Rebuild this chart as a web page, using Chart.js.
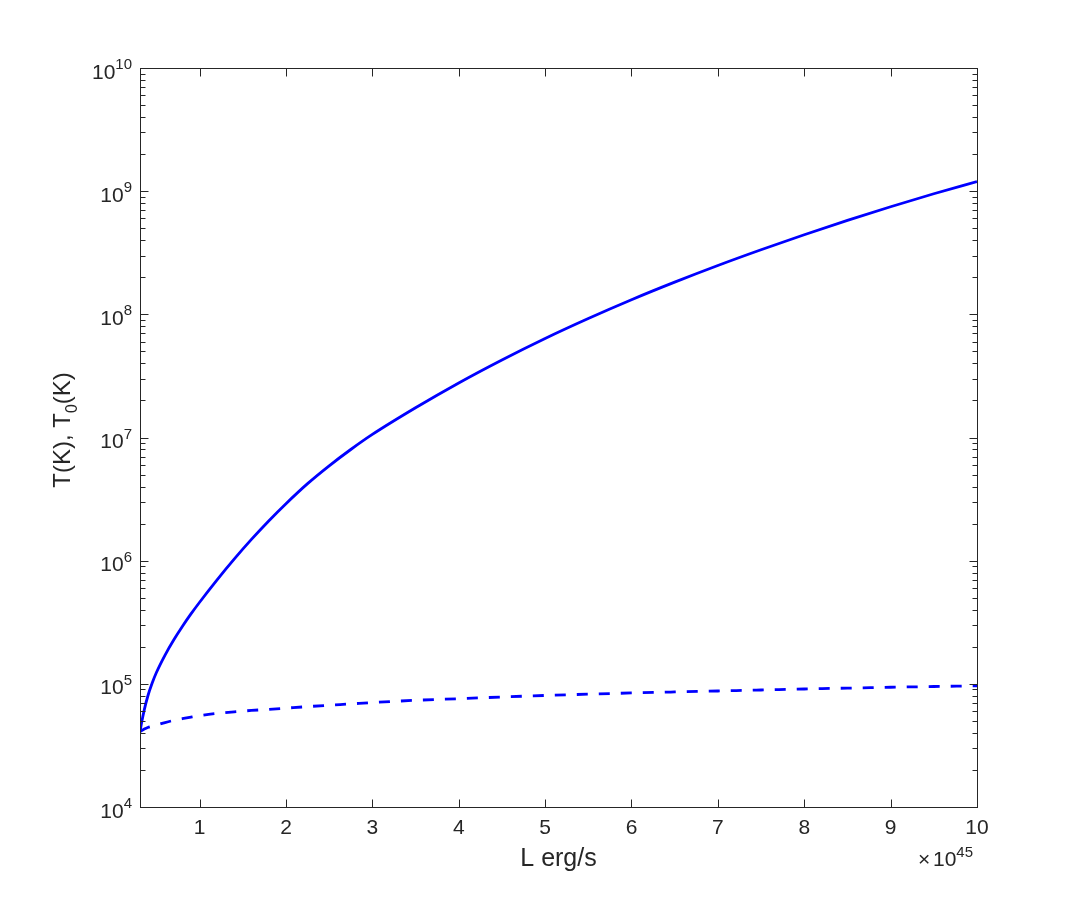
<!DOCTYPE html>
<html>
<head>
<meta charset="utf-8">
<script src="https://cdn.jsdelivr.net/npm/chart.js@4.4.1/dist/chart.umd.min.js"></script>
<style>
  html, body { margin: 0; padding: 0; background: #fff; }
  canvas { display: block; }
</style>
</head>
<body>
<canvas id="myChart" width="1079" height="907"></canvas>
<script>
// luminosity in units of 1e45 erg/s
const lumValues = [0.31, 0.33, 0.36, 0.4, 0.45, 0.5, 0.6, 0.7, 0.8, 0.9, 1.0, 1.2, 1.4, 1.6, 1.8,
    2.0, 2.25, 2.5, 2.75, 3.0, 3.5, 4.0, 4.5, 5.0, 5.5, 6.0, 6.5, 7.0, 7.5, 8.0, 8.5, 9.0, 9.5, 10];
// T (K), solid line
const tempT = [4.08e4, 4.89e4, 6.18e4, 7.93e4, 1.009e5, 1.235e5, 1.712e5, 2.268e5, 2.921e5,
    3.694e5, 4.598e5, 6.958e5, 1.029e6, 1.488e6, 2.101e6, 2.901e6, 4.22e6, 5.888e6, 7.99e6,
    1.059e7, 1.743e7, 2.773e7, 4.262e7, 6.37e7, 9.25e7, 1.314e8, 1.825e8, 2.492e8, 3.344e8,
    4.429e8, 5.79e8, 7.478e8, 9.528e8, 1.195e9];
// T0 (K), dashed line
const tempT0 = [4.08e4, 4.17e4, 4.29e4, 4.42e4, 4.53e4, 4.63e4, 4.85e4, 5.05e4, 5.21e4, 5.37e4,
    5.52e4, 5.75e4, 5.93e4, 6.08e4, 6.21e4, 6.35e4, 6.53e4, 6.70e4, 6.87e4, 7.05e4, 7.35e4,
    7.57e4, 7.82e4, 8.05e4, 8.24e4, 8.43e4, 8.59e4, 8.75e4, 8.91e4, 9.08e4, 9.23e4, 9.38e4,
    9.51e4, 9.62e4];
const xTicks = [1, 2, 3, 4, 5, 6, 7, 8, 9, 10];
const yExponents = [4, 5, 6, 7, 8, 9, 10];

const FONT = "'Liberation Sans', Arial, Helvetica, sans-serif";
const AXIS_COLOR = '#262626';

const toPoints = (ys) => lumValues.map((x, i) => ({ x: x, y: ys[i] }));

// box, inward ticks, log labels and axis titles (MATLAB style)
const axesPlugin = {
    id: 'matlabAxes',
    afterDraw(chart) {
        const c = chart.ctx;
        const a = chart.chartArea;
        const xs = chart.scales.x;
        const ys = chart.scales.y;
        const L = Math.round(a.left) + 0.5, R = Math.round(a.right) + 0.5;
        const T = Math.round(a.top) + 0.5, B = Math.round(a.bottom) + 0.5;

        c.save();
        c.strokeStyle = AXIS_COLOR;
        c.lineWidth = 1;
        c.strokeRect(L, T, R - L, B - T);

        c.beginPath();
        xTicks.forEach(v => {
            const px = Math.round(xs.getPixelForValue(v)) + 0.5;
            c.moveTo(px, B); c.lineTo(px, B - 8);
            c.moveTo(px, T); c.lineTo(px, T + 8);
        });
        yExponents.forEach(e => {
            for (let k = 1; k <= 9; k++) {
                if (e === 10 && k > 1) break;
                const py = Math.round(ys.getPixelForValue(k * Math.pow(10, e))) + 0.5;
                const len = k === 1 ? 8 : 5;
                c.moveTo(L, py); c.lineTo(L + len, py);
                c.moveTo(R, py); c.lineTo(R - len, py);
            }
        });
        c.stroke();

        c.fillStyle = AXIS_COLOR;
        c.textBaseline = 'alphabetic';
        c.textAlign = 'left';
        yExponents.forEach(e => {
            const py = ys.getPixelForValue(Math.pow(10, e));
            c.font = '21px ' + FONT;
            const w10 = c.measureText('10').width;
            c.font = '15px ' + FONT;
            const wExp = c.measureText(String(e)).width;
            const x0 = a.left - 8 - wExp - w10;
            c.font = '21px ' + FONT;
            c.fillText('10', x0, py + 10.5);
            c.font = '15px ' + FONT;
            c.fillText(String(e), x0 + w10, py + 1);
        });

        // x multiplier
        c.font = '21px ' + FONT;
        c.fillText('\u00d7', 918, 866);
        c.fillText('10', 933, 866);
        const w10 = c.measureText('10').width;
        c.font = '15px ' + FONT;
        c.fillText('45', 933 + w10, 857);

        // x title
        c.font = '25px ' + FONT;
        c.textAlign = 'center';
        c.fillText('L erg/s', (a.left + a.right) / 2, 866);

        // y title
        c.translate(70, 430);
        c.rotate(-Math.PI / 2);
        const p1 = 'T(K), T', p2 = '0', p3 = '(K)';
        c.font = '24px ' + FONT;
        const w1 = c.measureText(p1).width, w3 = c.measureText(p3).width;
        c.font = '16px ' + FONT;
        const w2 = c.measureText(p2).width;
        let x = -(w1 + w2 + w3) / 2;
        c.textAlign = 'left';
        c.font = '24px ' + FONT;
        c.fillText(p1, x, 0); x += w1;
        c.font = '16px ' + FONT;
        c.fillText(p2, x, 7); x += w2;
        c.font = '24px ' + FONT;
        c.fillText(p3, x, 0);
        c.restore();
    }
};

const myChart = new Chart(document.getElementById('myChart').getContext('2d'), {
    type: 'line',
    data: {
        datasets: [
            {
                label: 'T',
                data: toPoints(tempT),
                borderColor: '#0000ff',
                borderWidth: 2.8,
                pointRadius: 0,
                fill: false,
                cubicInterpolationMode: 'monotone'
            },
            {
                label: 'T0',
                data: toPoints(tempT0),
                borderColor: '#0000ff',
                borderWidth: 2.8,
                borderDash: [11, 11],
                pointRadius: 0,
                fill: false,
                cubicInterpolationMode: 'monotone'
            }
        ]
    },
    options: {
        responsive: false,
        animation: false,
        devicePixelRatio: 1,
        layout: { padding: { top: 68, right: 102, left: 0, bottom: 0 } },
        plugins: {
            legend: { display: false },
            tooltip: { enabled: false }
        },
        scales: {
            x: {
                type: 'linear',
                min: 0.31,
                max: 10,
                grid: { display: false, drawTicks: false },
                border: { display: false },
                afterBuildTicks: (sc) => { sc.ticks = xTicks.map(v => ({ value: v })); },
                afterFit: (sc) => { sc.height = 100; },
                ticks: {
                    font: { family: FONT, size: 21 },
                    color: AXIS_COLOR,
                    padding: 9,
                    maxRotation: 0,
                    autoSkip: false
                }
            },
            y: {
                type: 'logarithmic',
                min: 1e4,
                max: 1e10,
                grid: { display: false, drawTicks: false },
                border: { display: false },
                ticks: { display: false },
                afterFit: (sc) => { sc.width = 140; }
            }
        }
    },
    plugins: [axesPlugin]
});
</script>
</body>
</html>
